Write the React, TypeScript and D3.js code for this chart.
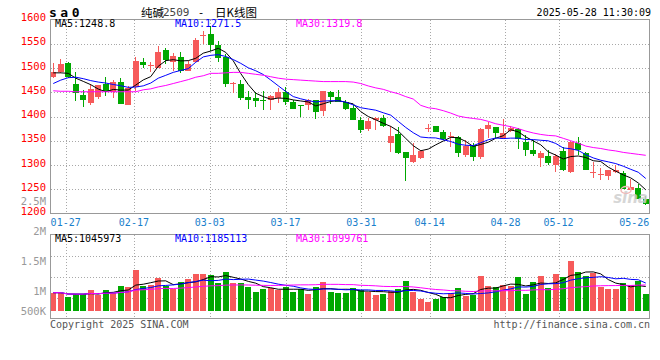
import { useEffect, useRef } from 'react';
import * as d3 from 'd3';

const dates = [
  '01-23', '01-24', '01-27', '02-05', '02-06', '02-07', '02-10', '02-11', '02-12', '02-13',
  '02-14', '02-17', '02-18', '02-19', '02-20', '02-21', '02-24', '02-25', '02-26', '02-27',
  '02-28', '03-03', '03-04', '03-05', '03-06', '03-07', '03-10', '03-11', '03-12', '03-13',
  '03-14', '03-17', '03-18', '03-19', '03-20', '03-21', '03-24', '03-25', '03-26', '03-27',
  '03-28', '03-31', '04-01', '04-02', '04-03', '04-07', '04-08', '04-09', '04-10', '04-11',
  '04-14', '04-15', '04-16', '04-17', '04-18', '04-21', '04-22', '04-23', '04-24', '04-25',
  '04-28', '04-29', '04-30', '05-06', '05-07', '05-08', '05-09', '05-12', '05-13', '05-14',
  '05-15', '05-16', '05-19', '05-20', '05-21', '05-22', '05-23', '05-26', '05-27', '05-28',
];

const openPrices = [
  1481, 1491, 1511, 1467, 1445, 1428, 1441, 1466, 1450, 1472,
  1424, 1460, 1513, 1504, 1501, 1537, 1513, 1523, 1493, 1513,
  1567, 1571, 1547, 1523, 1469, 1468, 1440, 1438, 1435, 1434,
  1438, 1451, 1430, 1423, 1423, 1433, 1411, 1451, 1441, 1430,
  1418, 1392, 1374, 1393, 1396, 1346, 1364, 1326, 1307, 1315,
  1375, 1380, 1368, 1357, 1358, 1321, 1341, 1316, 1375, 1379,
  1354, 1370, 1375, 1348, 1331, 1315, 1319, 1299, 1329, 1285,
  1345, 1324, 1284, 1280, 1277, 1285, 1283, 1248, 1253, 1229,
];

const highPrices = [
  1511, 1519, 1513, 1491, 1455, 1468, 1465, 1482, 1475, 1479,
  1462, 1523, 1520, 1513, 1545, 1542, 1530, 1533, 1515, 1562,
  1577, 1586, 1555, 1528, 1472, 1476, 1453, 1450, 1453, 1445,
  1458, 1460, 1435, 1424, 1436, 1435, 1453, 1453, 1455, 1433,
  1423, 1399, 1396, 1399, 1403, 1380, 1379, 1326, 1346, 1330,
  1385, 1380, 1372, 1368, 1360, 1351, 1346, 1377, 1389, 1379,
  1395, 1380, 1377, 1362, 1351, 1328, 1331, 1323, 1338, 1350,
  1357, 1326, 1307, 1293, 1290, 1300, 1287, 1271, 1260, 1237,
];

const lowPrices = [
  1479, 1489, 1479, 1432, 1419, 1423, 1436, 1443, 1438, 1426,
  1424, 1453, 1500, 1492, 1500, 1508, 1494, 1489, 1493, 1513,
  1550, 1535, 1513, 1460, 1448, 1433, 1415, 1419, 1414, 1413,
  1428, 1423, 1416, 1400, 1414, 1394, 1402, 1425, 1430, 1413,
  1392, 1366, 1370, 1372, 1379, 1326, 1323, 1266, 1305, 1313,
  1368, 1368, 1351, 1338, 1316, 1317, 1309, 1313, 1355, 1355,
  1353, 1368, 1334, 1319, 1319, 1295, 1299, 1285, 1287, 1283,
  1321, 1289, 1273, 1270, 1269, 1283, 1251, 1248, 1229, 1217,
];

const closePrices = [
  1491, 1509, 1481, 1448, 1433, 1457, 1464, 1453, 1472, 1426,
  1458, 1515, 1506, 1506, 1533, 1516, 1525, 1493, 1509, 1557,
  1569, 1547, 1521, 1467, 1470, 1438, 1433, 1432, 1432, 1443,
  1450, 1430, 1416, 1421, 1433, 1409, 1452, 1440, 1430, 1416,
  1392, 1372, 1390, 1396, 1380, 1360, 1324, 1314, 1321, 1328,
  1377, 1368, 1353, 1359, 1324, 1339, 1316, 1374, 1382, 1365,
  1365, 1377, 1353, 1330, 1323, 1325, 1305, 1319, 1290, 1348,
  1331, 1289, 1286, 1282, 1290, 1289, 1251, 1255, 1230, 1219,
];

const volumes = [
  774000, 774000, 602000, 702000, 702000, 889000, 690000, 889000, 774000, 1061000,
  1032000, 1749000, 1075000, 1104000, 1419000, 1075000, 932000, 1247000, 1362000, 1577000,
  1577000, 1534000, 1204000, 1663000, 1204000, 1204000, 1032000, 817000, 917000, 960000,
  889000, 1032000, 817000, 917000, 717000, 1032000, 1247000, 817000, 774000, 745000,
  989000, 889000, 817000, 674000, 717000, 860000, 917000, 1276000, 817000, 516000,
  387000, 516000, 602000, 774000, 989000, 631000, 674000, 1491000, 1061000, 1003000,
  1104000, 1061000, 1433000, 717000, 1247000, 1491000, 960000, 1577000, 1433000, 2136000,
  1677000, 1491000, 1605000, 1003000, 917000, 917000, 1175000, 1104000, 1290000, 717000,
];

// MA30 as drawn (needs data before the visible window)
const ma30Prices = [
  1453, 1452, 1452, 1451, 1451, 1451, 1451, 1451, 1451, 1451,
  1451, 1451, 1455, 1457, 1461, 1464, 1468, 1472, 1476, 1481,
  1484, 1489, 1489, 1490, 1491, 1491, 1489, 1487, 1485, 1482,
  1479, 1477, 1476, 1475, 1474, 1473, 1472, 1472, 1472, 1472,
  1471, 1468, 1463, 1459, 1456, 1451, 1447, 1441, 1436, 1423,
  1418, 1416, 1412, 1407, 1401, 1398, 1396, 1394, 1390, 1385,
  1382, 1379, 1375, 1370, 1366, 1363, 1361, 1360, 1355, 1350,
  1345, 1339, 1336, 1334, 1331, 1329, 1326, 1324, 1322, 1320,
];
// first points of MA5 / MA10 as drawn, before a full window exists
const ma5Head = [1490, 1490, 1489, 1479];
const ma10Head = [1468, 1475, 1480, 1481, 1478, 1474, 1471, 1469, 1466];

const tickDates = ['01-27', '02-17', '03-03', '03-17', '03-31', '04-14', '04-28', '05-12', '05-26'];
const priceTicks = [1600, 1550, 1500, 1450, 1400, 1350, 1300, 1250, 1200];
const volumeTicks = [500000, 1000000, 1500000, 2000000, 2500000];
const volumeTickLabels = ['500K', '1M', '1.5M', '2M', '2.5M'];
const priceMaLabels = ['MA5:1248.8', 'MA10:1271.5', 'MA30:1319.8'];
const volumeMaLabels = ['MA5:1045973', 'MA10:1185113', 'MA30:1099761'];
const maColors = ['#000000', '#0000ff', '#ff00ff'];

const UP = '#f65a5a';
const DOWN = '#00a800';
const MONO = '"DejaVu Sans Mono", monospace';

function movingAverage(values: number[], n: number, head: number[] = []) {
  return values.map((_, i) => {
    if (i < head.length) return head[i];
    return d3.mean(values.slice(Math.max(0, i - n + 1), i + 1)) as number;
  });
}

export default function App() {
  const svgRef = useRef<SVGSVGElement>(null);

  useEffect(() => {
    if (!svgRef.current) return;
    const svg = d3.select(svgRef.current);
    svg.selectAll('*').remove();

    const left = 50.5;
    const right = 649.5;
    const priceTop = 19.5;
    const priceBottom = 213.5;
    const volTop = 234.5;
    const volBottom = 318.5;
    const volBase = 310.7;

    const index = d3.range(dates.length);
    const x = d3.scaleBand<number>().domain(index).range([49.5, 649.5]).paddingInner(0.2).paddingOuter(0.1);
    const cx = (i: number) => (x(i) as number) + x.bandwidth() / 2;
    const gridX = d3.scaleLinear().domain([0, dates.length - 1]).range([left, right]);
    const y = d3.scaleLinear().domain([1200, 1600]).range([priceBottom, priceTop]);
    const yVol = d3.scaleLinear().domain([0, 2000000]).range([volBase, volBase - 2000000 / 43000]);
    const yVolLabel = d3.scaleLinear().domain(volumeTicks).range([310.7, 290.7, 260.7, 231, 200.5]);

    svg.append('rect').attr('width', 660).attr('height', 360).attr('fill', '#fff');

    const grid = svg.append('g').attr('stroke', '#a8a8a8').attr('stroke-dasharray', '1,2').attr('shape-rendering', 'crispEdges');
    priceTicks.slice(1, -1).forEach((p) => {
      const yy = Math.round(y(p)) + 0.5;
      grid.append('line').attr('x1', left).attr('x2', right).attr('y1', yy).attr('y2', yy);
    });
    [1, 2, 3].forEach((k) => {
      const yy = Math.round(volTop + ((volBottom - volTop) * k) / 4) + 0.5;
      grid.append('line').attr('x1', left).attr('x2', right).attr('y1', yy).attr('y2', yy);
    });
    const tickIdx = tickDates.map((d) => dates.indexOf(d));
    tickIdx.slice(0, -1).forEach((i) => {
      const xx = Math.round(gridX(i)) + 0.5;
      grid.append('line').attr('x1', xx).attr('x2', xx).attr('y1', priceTop).attr('y2', priceBottom);
      grid.append('line').attr('x1', xx).attr('x2', xx).attr('y1', volTop).attr('y2', volBottom);
    });

    // candles
    const candles = svg.append('g').attr('shape-rendering', 'crispEdges');
    index.forEach((i) => {
      const o = openPrices[i];
      const c = closePrices[i];
      const color = c >= o ? UP : DOWN;
      const wx = Math.floor(cx(i)) + 0.5;
      candles.append('line').attr('x1', wx).attr('x2', wx)
        .attr('y1', y(highPrices[i])).attr('y2', y(lowPrices[i])).attr('stroke', color);
      const top = y(Math.max(o, c));
      const h = Math.max(1, Math.abs(y(o) - y(c)));
      candles.append('rect').attr('x', x(i) as number).attr('y', top)
        .attr('width', x.bandwidth()).attr('height', h).attr('fill', color);
    });

    // volume bars
    const bars = svg.append('g').attr('shape-rendering', 'crispEdges');
    index.forEach((i) => {
      bars.append('rect').attr('x', x(i) as number).attr('y', yVol(volumes[i]))
        .attr('width', x.bandwidth()).attr('height', volBase - yVol(volumes[i]))
        .attr('fill', closePrices[i] >= openPrices[i] ? UP : DOWN);
    });

    const priceMas = [movingAverage(closePrices, 5, ma5Head), movingAverage(closePrices, 10, ma10Head), ma30Prices];
    const volMas = [movingAverage(volumes, 5), movingAverage(volumes, 10), movingAverage(volumes, 30)];
    const priceLine = d3.line<number>().x((_, i) => cx(i)).y((d) => y(d));
    const volLine = d3.line<number>().x((_, i) => cx(i)).y((d) => yVol(d));
    priceMas.forEach((s, k) => {
      svg.append('path').attr('d', priceLine(s)).attr('fill', 'none').attr('stroke', maColors[k]).attr('stroke-width', 1);
    });
    volMas.forEach((s, k) => {
      svg.append('path').attr('d', volLine(s)).attr('fill', 'none').attr('stroke', maColors[k]).attr('stroke-width', 1);
    });

    // frames
    svg.append('rect').attr('x', left).attr('y', priceTop).attr('width', right - left).attr('height', priceBottom - priceTop)
      .attr('fill', 'none').attr('stroke', '#999').attr('shape-rendering', 'crispEdges');
    svg.append('rect').attr('x', left).attr('y', volTop).attr('width', right - left).attr('height', volBottom - volTop)
      .attr('fill', 'none').attr('stroke', '#999').attr('shape-rendering', 'crispEdges');

    const txt = svg.append('g').style('font-family', MONO).style('font-size', '10px');

    // price axis
    priceTicks.forEach((p) => {
      txt.append('text').attr('x', 46).attr('y', y(p) - 2.5).attr('text-anchor', 'end')
        .attr('dominant-baseline', 'central').attr('fill', '#ff0000').style('font-size', '10.5px').text(p);
    });
    volumeTicks.forEach((v, k) => {
      txt.append('text').attr('x', 46).attr('y', yVolLabel(v)).attr('text-anchor', 'end')
        .attr('dominant-baseline', 'central').attr('fill', '#999').style('font-size', '10.5px').text(volumeTickLabels[k]);
    });

    // dates
    tickIdx.forEach((i, k) => {
      const xx = Math.min(Math.max(gridX(i), left + 15), right - 15);
      txt.append('text').attr('x', xx).attr('y', 222).attr('text-anchor', 'middle')
        .attr('dominant-baseline', 'central').attr('fill', '#1a80cc').text(tickDates[k]);
    });

    // MA legends
    const legendX = [55, 175, 296];
    priceMaLabels.forEach((t, k) => {
      txt.append('text').attr('x', legendX[k]).attr('y', 23.5).attr('dominant-baseline', 'central')
        .attr('fill', maColors[k]).text(t);
    });
    volumeMaLabels.forEach((t, k) => {
      txt.append('text').attr('x', legendX[k]).attr('y', 238.5).attr('dominant-baseline', 'central')
        .attr('fill', maColors[k]).text(t);
    });

    // header
    txt.append('text').attr('x', 49).attr('y', 12).attr('dominant-baseline', 'central')
      .style('font-size', '13px').style('font-weight', 'bold').style('letter-spacing', '3.5px').attr('fill', '#000').text('sa0');
    const cjk = '"Noto Sans CJK SC", sans-serif';
    txt.append('text').attr('x', 141).attr('y', 12).attr('dominant-baseline', 'central')
      .style('font-family', cjk).style('font-size', '11.5px').attr('fill', '#000').text('纯碱');
    txt.append('text').attr('x', 163).attr('y', 12.5).attr('dominant-baseline', 'central')
      .style('font-size', '11px').attr('fill', '#444').text('2509');
    txt.append('text').attr('x', 201).attr('y', 12).attr('text-anchor', 'middle').attr('dominant-baseline', 'central')
      .style('font-size', '11px').attr('fill', '#000').text('-');
    txt.append('text').attr('x', 215).attr('y', 12).attr('dominant-baseline', 'central')
      .style('font-family', cjk).style('font-size', '11.5px').attr('fill', '#000').text('日K线图');
    txt.append('text').attr('x', 651).attr('y', 12).attr('text-anchor', 'end').attr('dominant-baseline', 'central')
      .attr('fill', '#000').text('2025-05-28 11:30:09');

    // footer
    txt.append('text').attr('x', 50).attr('y', 324).attr('dominant-baseline', 'central')
      .attr('fill', '#555').text('Copyright 2025 SINA.COM');
    txt.append('text').attr('x', 650).attr('y', 324).attr('text-anchor', 'end').attr('dominant-baseline', 'central')
      .attr('fill', '#555').text('http://finance.sina.com.cn');

    // watermark
    svg.append('ellipse').attr('cx', 626).attr('cy', 190).attr('rx', 5).attr('ry', 3.5)
      .attr('fill', 'none').attr('stroke', '#f2b8b8').attr('stroke-width', 1.5);
    svg.append('text').attr('x', 648).attr('y', 203).attr('text-anchor', 'end')
      .style('font-family', '"DejaVu Sans", sans-serif').style('font-size', '15px').style('font-weight', 'bold')
      .style('font-style', 'italic').attr('fill', '#cfcfcf').attr('opacity', 0.85).text('sina');
  }, []);

  return <svg ref={svgRef} width={660} height={360} style={{ position: 'absolute', left: 0, top: 0 }} />;
}
